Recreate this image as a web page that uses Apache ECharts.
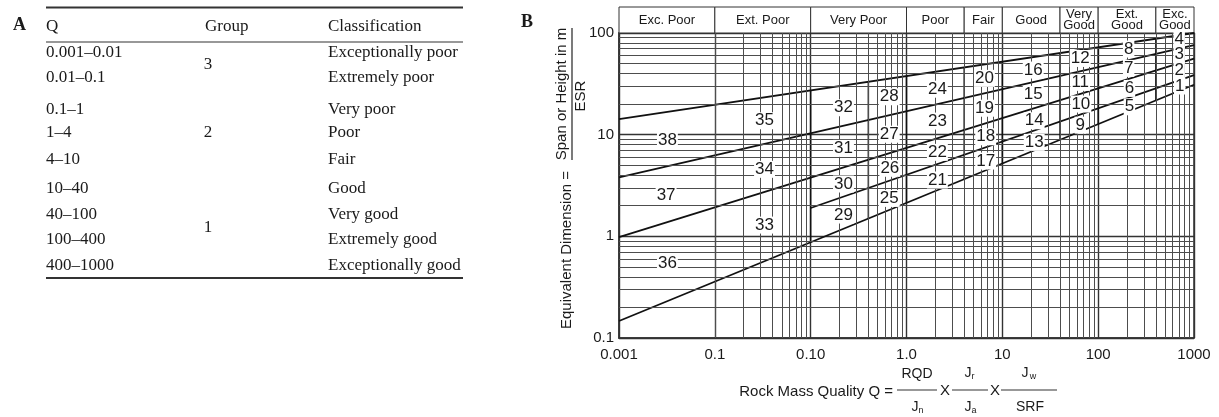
<!DOCTYPE html>
<html>
<head>
<meta charset="utf-8">
<script src="https://cdn.jsdelivr.net/npm/echarts@6/dist/echarts.min.js"></script>
<style>
html,body{margin:0;padding:0;background:#fff;}
#container{width:1219px;height:417px;}
</style>
</head>
<body>
<div id="container"></div>
<script>
// ---- Table A ----
let tableQ = ['0.001–0.01','0.01–0.1','0.1–1','1–4','4–10','10–40','40–100','100–400','400–1000'];
let tableClass = ['Exceptionally poor','Extremely poor','Very poor','Poor','Fair','Good','Very good','Extremely good','Exceptionally good'];
let tableGroups = ['3','2','1'];

// ---- Chart B ----
// class bands along Q
let classEdges = [0.001,0.01,0.1,1,4,10,40,100,400,1000];
let classNames = ['Exc. Poor','Ext. Poor','Very Poor','Poor','Fair','Good','Very\nGood','Ext.\nGood','Exc.\nGood'];

// tick labels as printed on the figure
let xTickLabels = ['0.001','0.1','0.10','1.0','10','100','1000'];
let yTickLabels = ['0.1','1','10','100'];

// boundary lines, [Q, D] end points
let line1 = [[0.001,14.2],[1000,100]];
let line2 = [[0.001,3.8],[1000,76]];
let line3 = [[0.001,0.98],[1000,56]];
let line4 = [[0.001,0.147],[1000,31]];
let line5 = [[0.1,1.9],[1000,38.5]];

// vertical region edges: Q, top D, bottom D
let regionQ = [0.1,0.4,1,4,10,40,100,400];
let regionTop = [27.3,33.2,37.8,45.9,52.3,63.7,72.4,88.1];
let regionBottom = [0.87,1.49,2.13,3.64,5.19,8.87,12.6,21.6];

// region numbers [Q, D, label]
let regionLabels = [
  [0.0032,8.85,'38'],[0.0031,2.55,'37'],[0.0032,0.543,'36'],
  [0.033,13.7,'35'],[0.033,4.56,'34'],[0.033,1.29,'33'],
  [0.22,18.4,'32'],[0.22,7.33,'31'],[0.22,3.27,'30'],[0.22,1.62,'29'],
  [0.66,23.6,'28'],[0.66,10.1,'27'],[0.67,4.67,'26'],[0.66,2.36,'25'],
  [2.1,28.0,'24'],[2.1,13.6,'23'],[2.1,6.70,'22'],[2.1,3.58,'21'],
  [6.5,35.8,'20'],[6.5,18.2,'19'],[6.7,9.53,'18'],[6.7,5.50,'17'],
  [21,43.2,'16'],[21,24.9,'15'],[21.5,13.7,'14'],[21.5,8.40,'13'],
  [65,56.2,'12'],[65,32.7,'11'],[66,20.0,'10'],[65,12.4,'9'],
  [208,69.5,'8'],[208,44.9,'7'],[212,28.5,'6'],[212,18.8,'5'],
  [700,87.1,'4'],[700,61.7,'3'],[700,43.2,'2'],[710,30.1,'1']
];

// log grid
let decadesX = [0.001,0.01,0.1,1,10,100];
let decadesY = [0.1,1,10];
let minorSteps = [2,3,4,5,6,7,8,9];

// ---- layout ----
const SANS = '"Liberation Sans", Arial, sans-serif';
const SERIF = '"Liberation Serif", "Times New Roman", serif';
const INK = '#1a1a1a';
let tableRowY = [53,78,110,133,160,189,215,240,266];
let tableGroupY = [65,133,228];

let minorX = [];
decadesX.forEach(d => minorSteps.forEach(k => minorX.push({xAxis: +(d*k).toPrecision(3)})));
let minorY = [];
decadesY.forEach(d => minorSteps.forEach(k => minorY.push({yAxis: +(d*k).toPrecision(3)})));

let graphics = [];
function txt(x, y, text, size, opts) {
  graphics.push(Object.assign({
    type: 'text', x: x, y: y, silent: true,
    style: Object.assign({text: text, fontSize: size, fontFamily: SANS, fill: INK,
      align: 'left', verticalAlign: 'middle'}, (opts && opts.style) || {})
  }, (opts && opts.el) || {}));
}
function rule(x1, y1, x2, y2, w) {
  graphics.push({type: 'line', silent: true, shape: {x1: x1, y1: y1, x2: x2, y2: y2},
    style: {stroke: '#333', lineWidth: w}});
}

// table A
txt(13, 25, 'A', 18, {style: {fontFamily: SERIF, fontWeight: 'bold'}});
rule(46, 7.5, 463, 7.5, 2);
rule(46, 42, 463, 42, 1.2);
rule(46, 278, 463, 278, 2);
txt(46, 27, 'Q', 17, {style: {fontFamily: SERIF}});
txt(205, 27, 'Group', 17, {style: {fontFamily: SERIF}});
txt(328, 27, 'Classification', 17, {style: {fontFamily: SERIF}});
tableQ.forEach((q, i) => {
  txt(46, tableRowY[i], q, 17, {style: {fontFamily: SERIF}});
  txt(328, tableRowY[i], tableClass[i], 17, {style: {fontFamily: SERIF}});
});
tableGroups.forEach((g, i) => txt(208, tableGroupY[i], g, 17, {style: {fontFamily: SERIF, align: 'center'}}));

// chart B label
txt(521, 22, 'B', 18, {style: {fontFamily: SERIF, fontWeight: 'bold'}});

// y axis title (rotated fraction)
txt(567, 250, 'Equivalent Dimension =', 15, {style: {align: 'center'}, el: {rotation: Math.PI / 2}});
txt(562, 94, 'Span or Height in m', 15, {style: {align: 'center'}, el: {rotation: Math.PI / 2}});
txt(581, 96, 'ESR', 15, {style: {align: 'center'}, el: {rotation: Math.PI / 2}});
rule(572, 28, 572, 160, 1.3);

// x axis title
txt(893, 392, 'Rock Mass Quality Q =', 15, {style: {align: 'right'}});
rule(897, 390, 937, 390, 1.2);
txt(917, 374, 'RQD', 14, {style: {align: 'center'}});
txt(915, 407, 'J', 14, {style: {align: 'center'}});
txt(921, 411, 'n', 9, {style: {align: 'center'}});
txt(945, 391, 'X', 15, {style: {align: 'center'}});
rule(952, 390, 988, 390, 1.2);
txt(968, 373, 'J', 14, {style: {align: 'center'}});
txt(973, 377, 'r', 9, {style: {align: 'center'}});
txt(968, 407, 'J', 14, {style: {align: 'center'}});
txt(974, 411, 'a', 9, {style: {align: 'center'}});
txt(995, 391, 'X', 15, {style: {align: 'center'}});
rule(1001, 390, 1057, 390, 1.2);
txt(1025, 373, 'J', 14, {style: {align: 'center'}});
txt(1033, 377, 'w', 9, {style: {align: 'center'}});
txt(1030, 407, 'SRF', 14, {style: {align: 'center'}});

let chart = echarts.init(document.getElementById('container'), null, {renderer: 'canvas'});

let lineStyleMain = {color: '#111', width: 1.8};
let series = [];

// minor grid lines
series.push({
  type: 'line', xAxisIndex: 0, yAxisIndex: 0, data: [], z: 1, silent: true,
  markLine: {
    silent: true, symbol: ['none', 'none'], animation: false,
    label: {show: false},
    lineStyle: {color: '#4d4d4d', width: 1, type: 'solid'},
    emphasis: {disabled: true},
    data: minorX.concat(minorY)
  }
});

// class bands header
series.push({
  type: 'line', xAxisIndex: 1, yAxisIndex: 1, data: [], silent: true,
  markArea: {
    silent: true,
    itemStyle: {color: '#fff', borderColor: '#333', borderWidth: 1},
    label: {show: true, position: 'inside', color: INK, fontSize: 13, lineHeight: 11, fontFamily: SANS, formatter: '{b}'},
    emphasis: {disabled: true},
    data: classNames.map((n, i) => [{name: n, coord: [classEdges[i], 0]}, {coord: [classEdges[i + 1], 1]}])
  }
});

[line1, line2, line3, line4, line5].forEach(l => series.push({
  type: 'line', data: l, showSymbol: false, z: 3, silent: true,
  lineStyle: lineStyleMain
}));

regionQ.forEach((q, i) => series.push({
  type: 'line', data: [[q, regionTop[i]], [q, regionBottom[i]]], showSymbol: false, z: 3, silent: true,
  lineStyle: {color: '#111', width: 1.5}
}));

series.push({
  type: 'scatter', data: regionLabels, symbolSize: 0, z: 5, silent: true,
  itemStyle: {opacity: 1},
  label: {
    show: true, position: 'inside', formatter: p => p.value[2],
    fontSize: 17, fontFamily: SANS, color: INK, opacity: 1,
    backgroundColor: '#fff', padding: [0, 1]
  }
});

chart.setOption({
  animation: false,
  backgroundColor: '#fff',
  graphic: graphics,
  grid: [
    {left: 619, right: 25, top: 33, bottom: 79, show: true, borderColor: '#333', borderWidth: 1.5, backgroundColor: 'transparent'},
    {left: 619, right: 25, top: 7, height: 26}
  ],
  xAxis: [
    {
      type: 'log', logBase: 10, min: 0.001, max: 1000, gridIndex: 0,
      axisLine: {show: true, lineStyle: {color: '#333', width: 1.5}},
      axisTick: {show: false},
      axisLabel: {
        margin: 9, fontSize: 15, fontFamily: SANS, color: INK,
        formatter: v => xTickLabels[Math.round(Math.log10(v)) + 3]
      },
      splitLine: {show: true, lineStyle: {color: '#333', width: 1.4}}
    },
    {type: 'log', logBase: 10, min: 0.001, max: 1000, gridIndex: 1, show: false}
  ],
  yAxis: [
    {
      type: 'log', logBase: 10, min: 0.1, max: 100, gridIndex: 0,
      axisLine: {show: true, lineStyle: {color: '#333', width: 1.5}},
      axisTick: {show: false},
      axisLabel: {
        margin: 5, fontSize: 15, fontFamily: SANS, color: INK,
        formatter: v => yTickLabels[Math.round(Math.log10(v)) + 1]
      },
      splitLine: {show: true, lineStyle: {color: '#333', width: 1.4}}
    },
    {type: 'value', min: 0, max: 1, gridIndex: 1, show: false}
  ],
  series: series
});
</script>
</body>
</html>
